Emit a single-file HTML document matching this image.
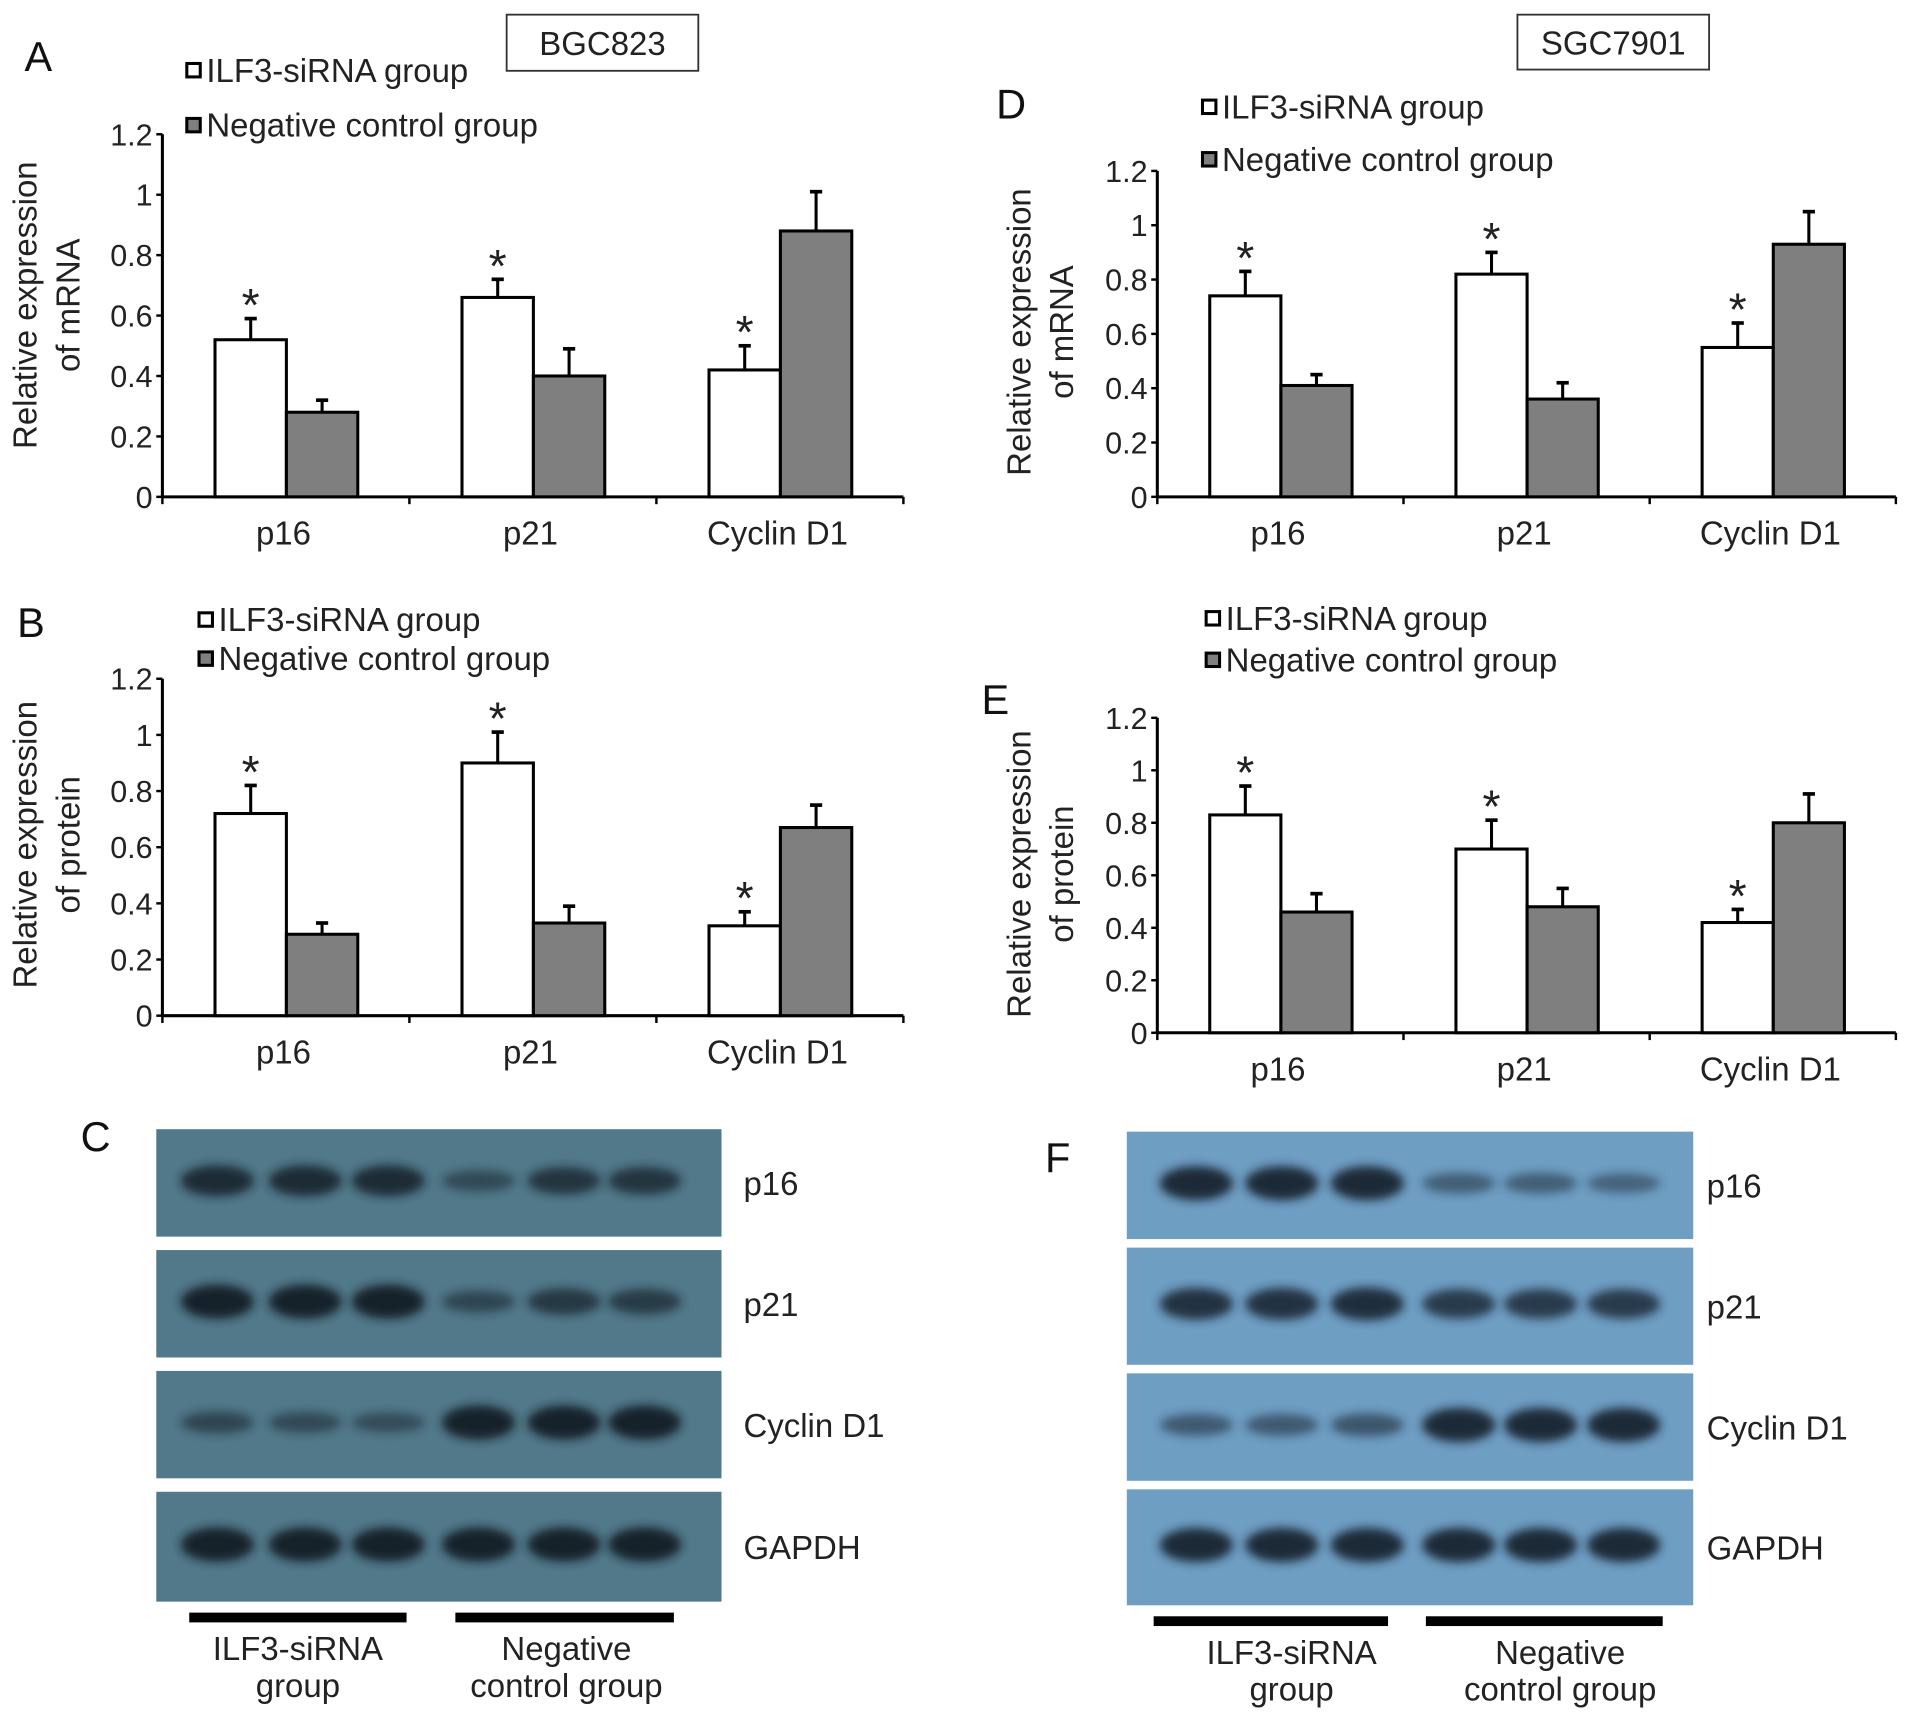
<!DOCTYPE html>
<html><head><meta charset="utf-8"><style>
html,body{margin:0;padding:0;background:#fff;}
svg{display:block;font-family:"Liberation Sans",Arial,sans-serif;}
</style></head><body>
<svg id="fig" width="1913" height="1717" viewBox="0 0 1567 1406.5" xmlns="http://www.w3.org/2000/svg">
<defs>
<filter id="blur" x="-50%" y="-100%" width="200%" height="300%"><feGaussianBlur stdDeviation="4"/></filter>
</defs>
<g id="root"></g>
</svg>
<script>
// ---- chart data ----
const categories = ["p16", "p21", "Cyclin D1"];
const seriesNames = ["ILF3-siRNA group", "Negative control group"];
const tickLabels = ["0", "0.2", "0.4", "0.6", "0.8", "1", "1.2"];
const tickValues = [0, 0.2, 0.4, 0.6, 0.8, 1, 1.2];
const aSiRNA = [0.52, 0.66, 0.42];
const aCtrl = [0.28, 0.40, 0.88];
const aSiRNAErr = [0.07, 0.06, 0.08];
const aCtrlErr = [0.04, 0.09, 0.13];
const bSiRNA = [0.72, 0.90, 0.32];
const bCtrl = [0.29, 0.33, 0.67];
const bSiRNAErr = [0.10, 0.11, 0.05];
const bCtrlErr = [0.04, 0.06, 0.08];
const dSiRNA = [0.74, 0.82, 0.55];
const dCtrl = [0.41, 0.36, 0.93];
const dSiRNAErr = [0.09, 0.08, 0.09];
const dCtrlErr = [0.04, 0.06, 0.12];
const eSiRNA = [0.83, 0.70, 0.42];
const eCtrl = [0.46, 0.48, 0.80];
const eSiRNAErr = [0.11, 0.11, 0.05];
const eCtrlErr = [0.07, 0.07, 0.11];
const blotRows = ["p16", "p21", "Cyclin D1", "GAPDH"];
const blotC = [[0.85,0.85,0.85,0.4,0.7,0.7],[1,1,1,0.45,0.65,0.6],[0.45,0.4,0.35,1,1,1],[1,1,1,1,1,1]];
const blotF = [[1,1,1,0.4,0.4,0.35],[0.9,0.9,0.95,0.8,0.8,0.8],[0.45,0.45,0.5,1,1,1],[1,1,1,1,1,1]];

const NS = "http://www.w3.org/2000/svg";
const root = document.getElementById("root");
function el(tag, attrs, parent, text) {
  const e = document.createElementNS(NS, tag);
  for (const k in attrs) e.setAttribute(k, attrs[k]);
  if (text !== undefined) e.textContent = text;
  (parent || root).appendChild(e);
  return e;
}

function chart(id, cfg) {
  const g = el("g", {});
  
  
  const {x0, x1, y0, yTop, s1, s2, e1, e2} = cfg;
  const yScale = v => y0 - (v / 1.2) * (y0 - yTop);
  const catW = (x1 - x0) / categories.length;
  const xBand = (i, k) => x0 + i * catW + catW * 0.213 + k * catW * 0.289;
  const bw = catW * 0.289;
  const ax = el("line", {x1: x0, y1: yTop, x2: x0, y2: y0, stroke: "#000", "stroke-width": 2.5}, g);
  
  
  const xa = el("line", {x1: x0, y1: y0, x2: x1, y2: y0, stroke: "#000", "stroke-width": 2.5}, g);
  
  
  tickValues.forEach((v, i) => {
    const y = yScale(v);
    el("line", {x1: x0 - 5, y1: y, x2: x0, y2: y, stroke: "#000", "stroke-width": 2}, g);
    const t = el("text", {x: x0 - 8, y: y + 9, "text-anchor": "end", "font-size": 25, fill: "#222"}, g, tickLabels[i]);
    
    
  });
  for (let i = 0; i <= categories.length; i++) {
    const x = x0 + i * catW;
    el("line", {x1: x, y1: y0, x2: x, y2: y0 + 6, stroke: "#000", "stroke-width": 2}, g);
  }
  categories.forEach((c, i) => {
    const t = el("text", {x: x0 + i * catW + catW * 0.5 - 2, y: y0 + 39, "text-anchor": "middle", "font-size": 27, fill: "#222"}, g, c);
    
    
  });
  [[s1, e1, "#fff", true], [s2, e2, "#7f7f7f", false]].forEach(([vals, errs, fill, star], k) => {
    vals.forEach((v, i) => {
      const x = xBand(i, k);
      const top = yScale(v);
      const eTop = yScale(v + errs[i]);
      const cx = x + bw / 2;
      const el1 = el("line", {x1: cx, y1: top, x2: cx, y2: eTop, stroke: "#000", "stroke-width": 2.5}, g);
      
      
      el("line", {x1: cx - 5, y1: eTop, x2: cx + 5, y2: eTop, stroke: "#000", "stroke-width": 3}, g);
      const r = el("rect", {x: x, y: top, width: bw, height: y0 - top, fill: fill, stroke: "#000", "stroke-width": 2.5}, g);
      
      
      if (star) {
        const st = el("text", {x: cx, y: eTop + 2, "text-anchor": "middle", "font-size": 38, fill: "#222"}, g, "*");
        
        
      }
    });
  });
  const ty = el("text", {transform: `translate(${cfg.tx},${cfg.ty}) rotate(-90)`, "text-anchor": "middle", "font-size": 27, fill: "#222"}, g);
  
  
  el("tspan", {x: 0, y: 0}, ty, "Relative expression");
  el("tspan", {x: 0, y: 35}, ty, cfg.title2);
  cfg.leg.forEach(([lx, ly], k) => {
    const sq = el("rect", {x: lx, y: ly - 6, width: 11, height: 11, fill: k ? "#7f7f7f" : "#fff", stroke: "#000", "stroke-width": 2.5}, g);
    
    
    const t = el("text", {x: lx + 16, y: ly + 9, "font-size": 27, fill: "#222"}, g, seriesNames[k]);
    
    
  });
  const L = el("text", {x: cfg.lab[0], y: cfg.lab[1], "font-size": 34, fill: "#111"}, g, cfg.letter);
  
  
}

chart("a", {x0:133,x1:740,y0:407,yTop:110,s1:aSiRNA,s2:aCtrl,e1:aSiRNAErr,e2:aCtrlErr,tx:30,ty:250,title2:"of mRNA",leg:[[153,58],[153,103]],lab:[20,58],letter:"A"});
chart("b", {x0:133,x1:740,y0:832,yTop:556,s1:bSiRNA,s2:bCtrl,e1:bSiRNAErr,e2:bCtrlErr,tx:30,ty:692,title2:"of protein",leg:[[163,508],[163,540]],lab:[14,522],letter:"B"});
chart("d", {x0:948,x1:1553,y0:407,yTop:140,s1:dSiRNA,s2:dCtrl,e1:dSiRNAErr,e2:dCtrlErr,tx:844,ty:272,title2:"of mRNA",leg:[[985,88],[985,131]],lab:[816,97],letter:"D"});
chart("e", {x0:948,x1:1553,y0:846,yTop:588,s1:eSiRNA,s2:eCtrl,e1:eSiRNAErr,e2:eCtrlErr,tx:844,ty:716,title2:"of protein",leg:[[988,507],[988,541]],lab:[804,585],letter:"E"});

[[415,12,157,46,"BGC823"],[1243,12,157,45,"SGC7901"]].forEach(([x,y,w,h,t]) => {
  const b = el("rect", {x, y, width: w, height: h, fill: "#fff", stroke: "#333", "stroke-width": 1.5});
  
  
  const tx = el("text", {x: x + w / 2, y: y + h / 2 + 10, "text-anchor": "middle", "font-size": 27, fill: "#222"}, root, t);
  
  
});

function blot(id, cfg) {
  const g = el("g", {});
  
  
  cfg.strips.forEach(([y, h], r) => {
    const s = el("rect", {x: cfg.x, y, width: cfg.w, height: h, fill: cfg.bg}, g);
    
    
    cfg.data[r].forEach((v, i) => {
      const cx = cfg.lanes[i];
      const b = el("ellipse", {cx, cy: y + h * 0.48, rx: 30, ry: 5 + 9 * v, fill: cfg.band, opacity: 0.25 + 0.75 * v, filter: "url(#blur)"}, g);
      
      
    });
    const t = el("text", {x: cfg.lx, y: y + h / 2 + 10, "font-size": 27, fill: "#222"}, g, blotRows[r]);
    
    
  });
  cfg.bars.forEach(([a, b, cx, l1, l2]) => {
    const bar = el("rect", {x: a, y: cfg.by - 4, width: b - a, height: 8, fill: "#000"}, g);
    
    
    const t = el("text", {x: cx, y: cfg.by + 35, "text-anchor": "middle", "font-size": 27, fill: "#222"}, g);
    
    
    el("tspan", {x: cx, dy: 0}, t, l1);
    el("tspan", {x: cx, dy: 30}, t, l2);
  });
  const L = el("text", {x: cfg.lab[0], y: cfg.lab[1], "font-size": 34, fill: "#111"}, g, cfg.letter);
  
  
}

blot("c", {x:128,w:463,bg:"#52798a",band:"#14212b",strips:[[925,88],[1024,88],[1123,88],[1222,90]],
  lanes:[178,250,318,392,462,528],data:blotC,lx:609,by:1325,
  bars:[[155,333,244,"ILF3-siRNA","group"],[373,552,464,"Negative","control group"]],lab:[66,943],letter:"C"});
blot("f", {x:923,w:464,bg:"#6f9ec3",band:"#1a2a38",strips:[[927,88],[1022,96],[1125,88],[1220,95]],
  lanes:[980,1050,1120,1195,1262,1330],data:blotF,lx:1398,by:1328,
  bars:[[945,1137,1058,"ILF3-siRNA","group"],[1168,1362,1278,"Negative","control group"]],lab:[856,960],letter:"F"});
</script>
</body></html>
